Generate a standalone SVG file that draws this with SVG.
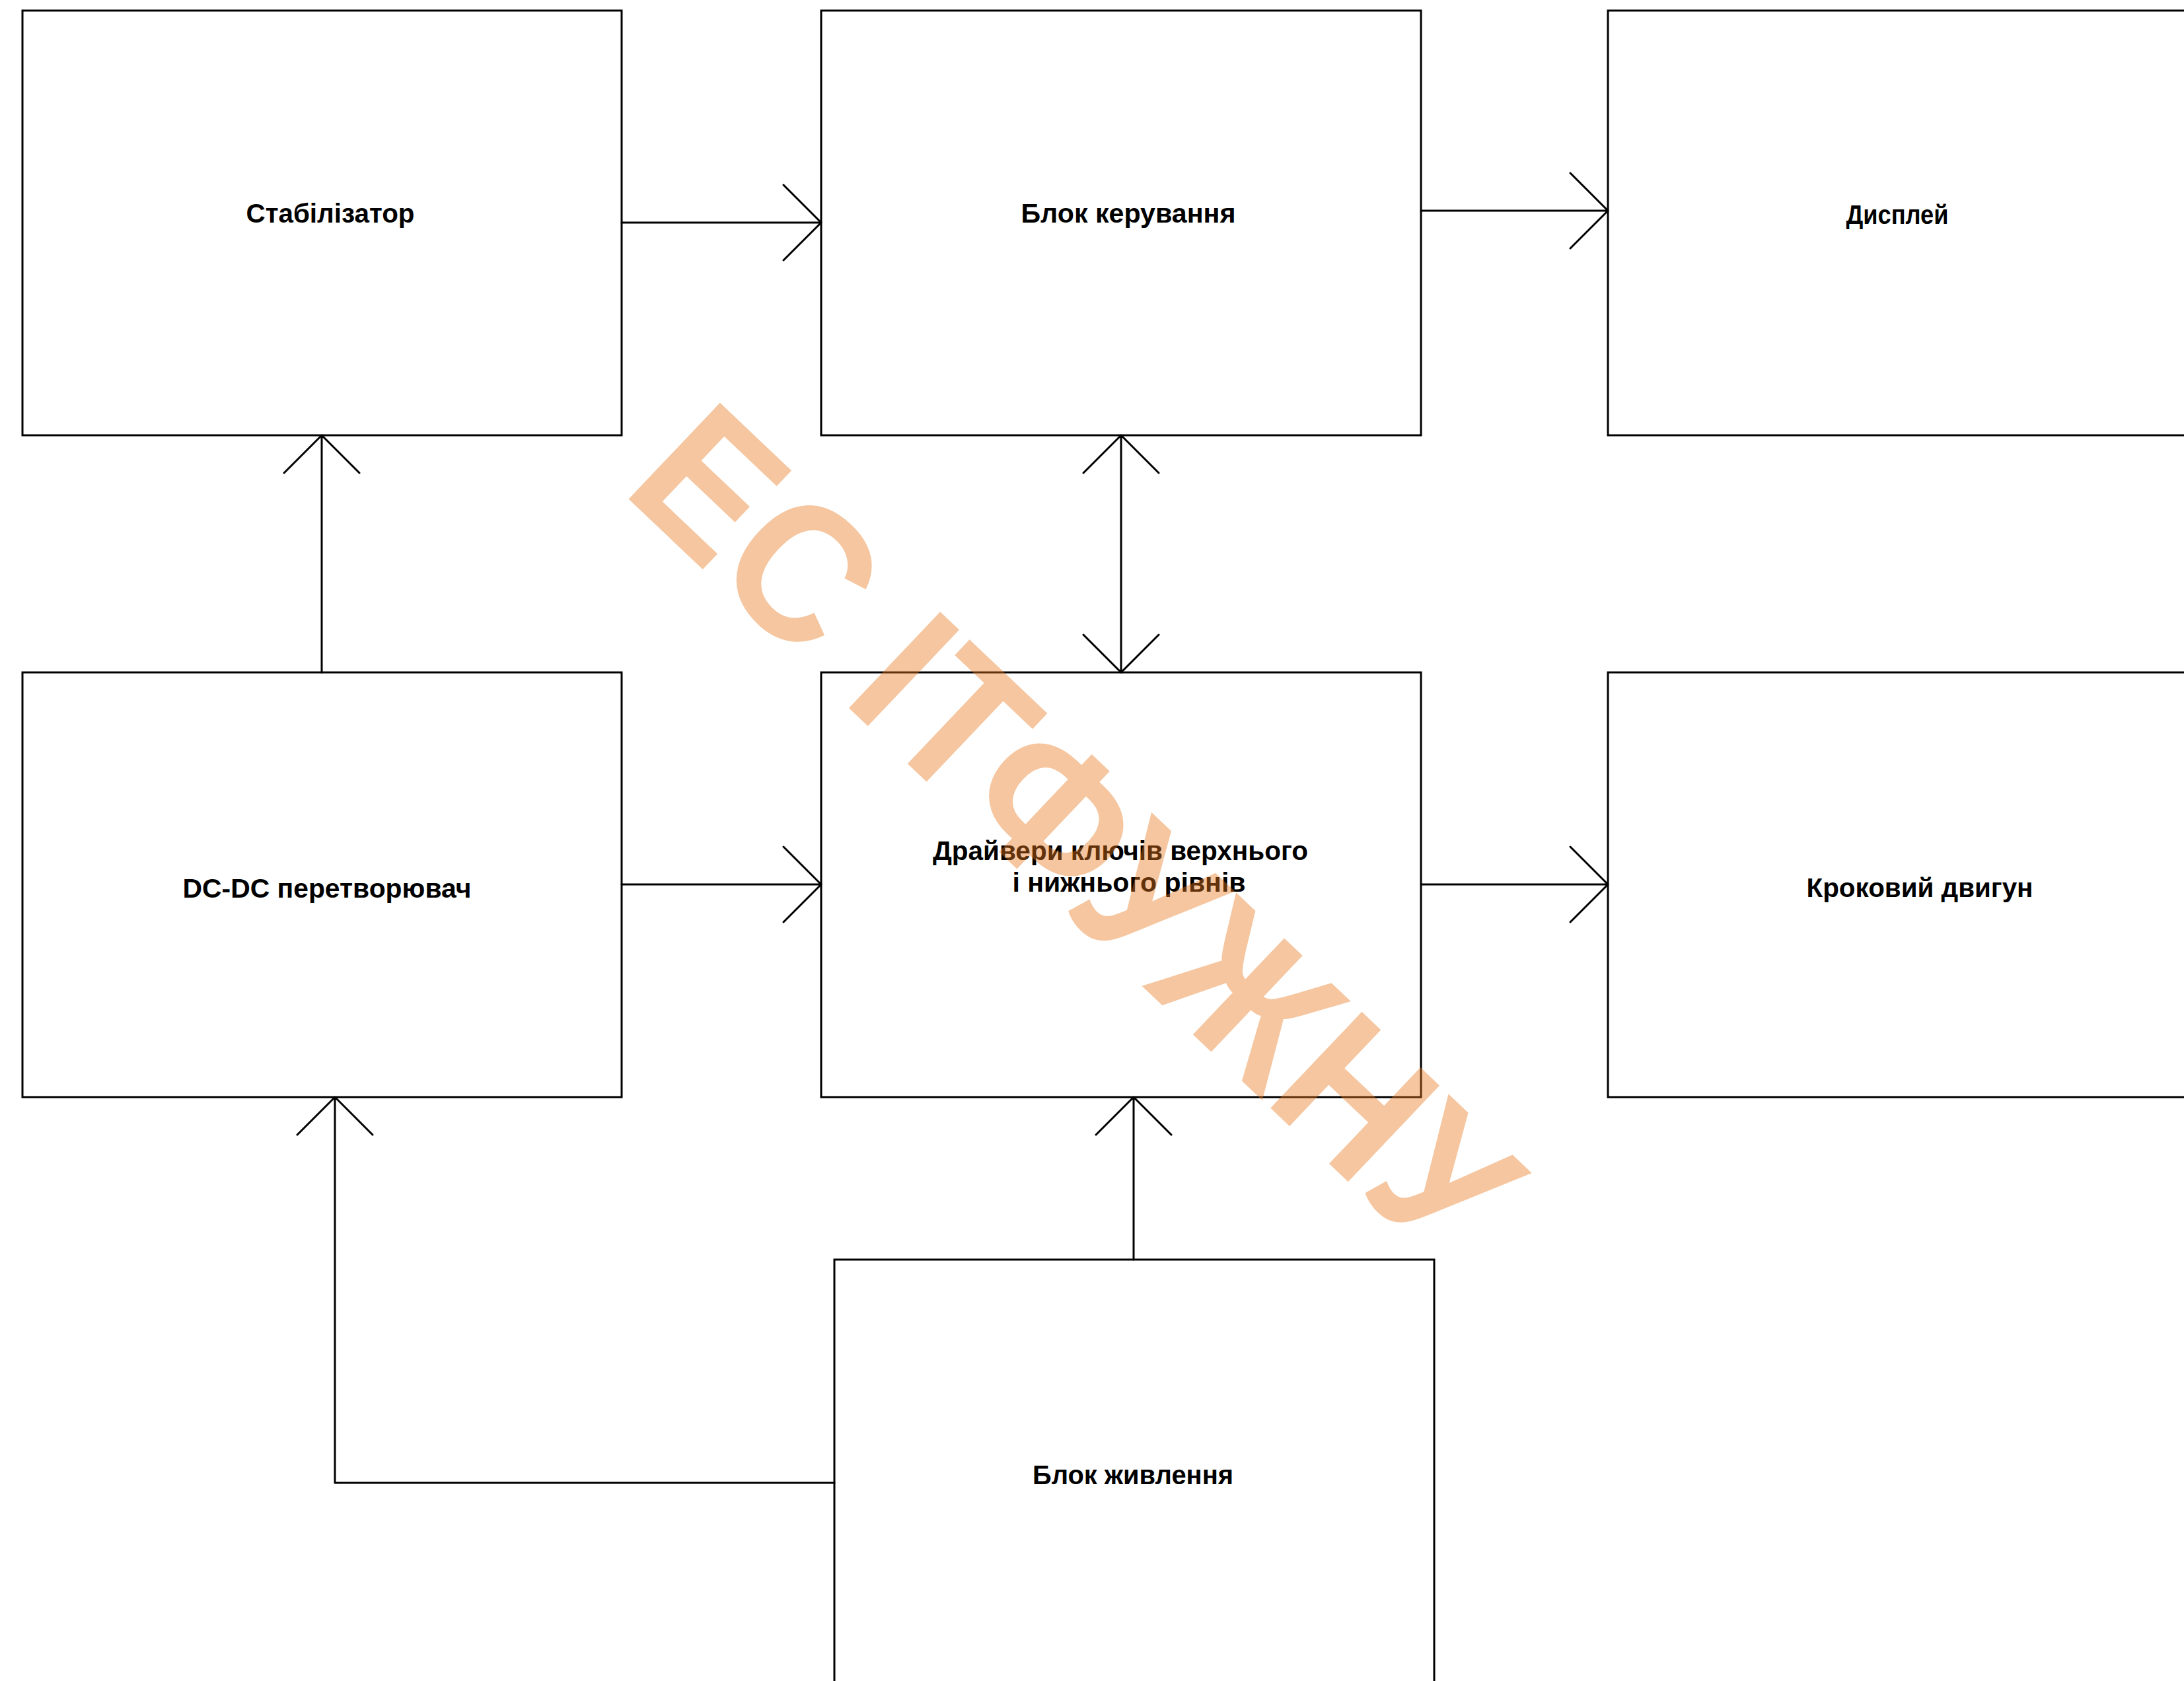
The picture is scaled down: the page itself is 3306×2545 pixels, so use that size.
<svg xmlns="http://www.w3.org/2000/svg" width="3306" height="2545" viewBox="0 0 3306 2545">
<style>
.box{fill:#fff;stroke:#000;stroke-width:3}
.ln{fill:none;stroke:#000;stroke-width:3;stroke-linecap:round;stroke-linejoin:round}
.lbl{font-family:"Liberation Sans",Arial,sans-serif;font-size:40px;font-weight:bold;fill:#000;text-anchor:middle}
.wm{font-family:"Liberation Sans",Arial,sans-serif;font-size:292px;font-weight:bold;fill:#E8781A;fill-opacity:0.42;text-anchor:middle}
</style>
<rect width="3306" height="2545" fill="#fff"/>
<g id="stab"><rect class="box" x="34" y="16" width="907" height="643"/><text class="lbl" x="500" y="337" textLength="255" lengthAdjust="spacingAndGlyphs">Стабілізатор</text></g>
<g id="control"><rect class="box" x="1243" y="16" width="908" height="643"/><text class="lbl" x="1708" y="337" textLength="325" lengthAdjust="spacingAndGlyphs">Блок  керування</text></g>
<g id="display"><rect class="box" x="2434" y="16" width="908" height="643"/><text class="lbl" x="2872" y="339" textLength="155" lengthAdjust="spacingAndGlyphs">Дисплей</text></g>
<g id="dcdc"><rect class="box" x="34" y="1018" width="907" height="643"/><text class="lbl" x="495" y="1359" textLength="437" lengthAdjust="spacingAndGlyphs">DC-DC  перетворювач</text></g>
<g id="drivers"><rect class="box" x="1243" y="1018" width="908" height="643"/><text class="lbl" x="1696" y="1302" textLength="568" lengthAdjust="spacingAndGlyphs">Драйвери  ключів  верхнього</text><text class="lbl" x="1709" y="1350" textLength="353" lengthAdjust="spacingAndGlyphs">і  нижнього  рівнів</text></g>
<g id="motor"><rect class="box" x="2434" y="1018" width="908" height="643"/><text class="lbl" x="2906" y="1358" textLength="343" lengthAdjust="spacingAndGlyphs">Кроковий  двигун</text></g>
<g id="power"><rect class="box" x="1263" y="1907" width="908" height="660"/><text class="lbl" x="1715" y="2247" textLength="304" lengthAdjust="spacingAndGlyphs">Блок  живлення</text></g>
<g id="connectors">
<path class="ln" d="M941 337H1243M1186 280L1243 337L1186 394"/>
<path class="ln" d="M2151 319H2434M2377 262L2434 319L2377 376"/>
<path class="ln" d="M487 1018V659M430 716L487 659L544 716"/>
<path class="ln" d="M1697 659V1018M1640 716L1697 659L1754 716M1640 961L1697 1018L1754 961"/>
<path class="ln" d="M941 1339H1243M1186 1282L1243 1339L1186 1396"/>
<path class="ln" d="M2151 1339H2434M2377 1282L2434 1339L2377 1396"/>
<path class="ln" d="M1716 1907V1661M1659 1718L1716 1661L1773 1718"/>
<path class="ln" d="M1263 2245H507V1661M450 1718L507 1661L564 1718"/>
</g>
<text class="wm" transform="translate(1630,1256) rotate(43.5)" x="0" y="104" textLength="1710" lengthAdjust="spacingAndGlyphs">ЕС ІТФУЖНУ</text>
</svg>
